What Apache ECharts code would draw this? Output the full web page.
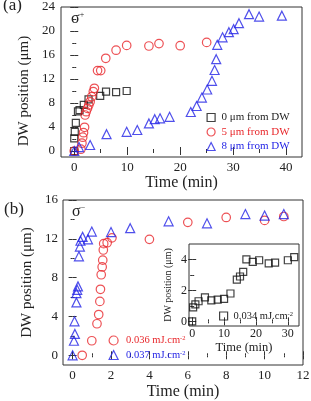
<!DOCTYPE html>
<html>
<head>
<meta charset="utf-8">
<script src="https://cdn.jsdelivr.net/npm/echarts@6/dist/echarts.min.js"></script>
<style>
  html, body { margin: 0; padding: 0; background: #fff; }
  #chart { width: 311px; height: 401px; }
</style>
</head>
<body>
<div id="chart"></div>
<script>
// (a) sigma+ : distance from DW
const aZeroTime = [0, 0, 0.1, 0.3, 0.7, 1.0, 1.8, 2.7, 4.9, 6.0, 7.9, 9.9];
const aZeroPos  = [0, 2.1, 3.2, 4.7, 6.6, 6.8, 7.7, 8.6, 9.2, 9.9, 9.8, 10.0];

const aFiveTime = [0, 1.25, 1.45, 1.6, 1.75, 1.95, 2.05, 2.25, 2.5, 2.75, 3.0, 3.3, 3.6, 3.8, 4.4, 5.0, 5.95, 7.9, 9.9, 14.1, 16.0, 20.0, 25.0];
const aFivePos  = [0, 0.3, 1.3, 2.3, 3.05, 3.95, 6.0, 6.55, 7.1, 7.65, 8.2, 9.05, 9.9, 10.45, 13.4, 13.4, 15.45, 16.8, 17.6, 17.5, 17.9, 17.55, 18.1];

const aEightTime = [0, 0.9, 3.0, 6.1, 9.9, 11.9, 14.1, 15.2, 16.2, 18.0, 22.0, 23.1, 24.1, 25.1, 26.0, 26.5, 26.8, 27.0, 28.0, 29.2, 30.1, 31.1, 33.0, 34.9, 39.2];
const aEightPos  = [0, 0.65, 1.0, 2.8, 3.2, 3.5, 4.6, 5.3, 5.45, 5.7, 6.5, 7.5, 8.9, 10.25, 11.7, 13.5, 15.3, 17.7, 18.95, 19.8, 20.3, 21.3, 22.8, 22.4, 22.55];

// (b) sigma- : fluence
const b036Time = [0.5, 1.0, 1.27, 1.36, 1.42, 1.45, 1.49, 1.54, 1.57, 1.6, 1.62, 1.8, 2.05, 4.0, 6.0, 8.0, 10.0, 11.0];
const b036Pos  = [0, 1.5, 3.25, 4.2, 5.55, 6.8, 8.3, 9.1, 9.8, 10.85, 11.5, 11.6, 12.1, 11.95, 13.7, 14.2, 13.9, 14.3];

const b037Time = [0, 0.07, 0.12, 0.1, 0.2, 0.2, 0.24, 0.28, 0.33, 0.38, 0.41, 0.52, 0.8, 1.0, 2.0, 3.0, 5.0, 7.0, 9.0, 10.0, 11.0];
const b037Pos  = [0, 1.5, 2.2, 3.5, 5.45, 6.4, 6.75, 7.1, 10.2, 11.2, 11.8, 12.2, 11.95, 12.75, 12.7, 13.1, 13.8, 13.6, 14.55, 14.4, 14.55];

// inset
const in034Time = [0, 0.3, 1, 2, 4, 6, 8, 10, 12, 14, 15, 16, 17, 19, 21, 24, 26, 30, 32];
const in034Pos  = [0, 0.9, 1.1, 1.3, 1.55, 1.35, 1.4, 1.45, 1.8, 2.7, 2.9, 3.2, 4.0, 3.85, 3.95, 3.75, 3.8, 3.95, 4.15];

// ticks
const aXTicks = [0, 10, 20, 30, 40];
const aXMinor = [5, 15, 25, 35];
const aYTicks = [0, 4, 8, 12, 16, 20, 24];
const aYMinor = [2, 6, 10, 14, 18, 22];
const bXTicks = [0, 2, 4, 6, 8, 10, 12];
const bXMinor = [1, 3, 5, 7, 9, 11];
const bYTicks = [0, 4, 8, 12, 16];
const bYMinor = [2, 6, 10, 14];
const inXTicks = [0, 10, 20, 30];
const inXMinor = [5, 15, 25];
const inYTicks = [0, 2, 4];
const inYMinor = [1, 3];

const SERIF = '"Liberation Serif", "Times New Roman", serif';
const INK = '#333';
const RED = '#e8262a';
const BLUE = '#2323e6';

const zip = (xs, ys) => xs.map((x, i) => [x, ys[i]]);

// 4 axes per side pair: main (labels + major ticks), main minor, mirror major, mirror minor
function sideAxes(gridIndex, pos, mirror, min, max, majors, minors, label, name) {
  const base = {
    type: 'value', gridIndex: gridIndex, min: min, max: max,
    axisLine: { show: false }, splitLine: { show: false }
  };
  const tick = (vals, len) => ({ show: true, inside: true, length: len, customValues: vals, lineStyle: { color: INK, width: 1 } });
  const main = Object.assign({}, base, {
    position: pos,
    axisTick: tick(majors, 4),
    axisLabel: Object.assign({ show: true, customValues: majors, color: '#222', fontFamily: SERIF }, label),
  }, name || {});
  return [
    main,
    Object.assign({}, base, { position: pos, axisTick: tick(minors, 2), axisLabel: { show: false } }),
    Object.assign({}, base, { position: mirror, axisTick: tick(majors, 4), axisLabel: { show: false } }),
    Object.assign({}, base, { position: mirror, axisTick: tick(minors, 2), axisLabel: { show: false } })
  ];
}

const xAxes = [].concat(
  sideAxes(0, 'bottom', 'top', -2.5, 43, aXTicks, aXMinor, { fontSize: 13, margin: 4 },
    { name: 'Time (min)', nameLocation: 'middle', nameGap: 18, nameTextStyle: { fontSize: 16, fontFamily: SERIF, color: '#222' } }),
  sideAxes(1, 'bottom', 'top', -0.5, 12, bXTicks, bXMinor, { fontSize: 13, margin: 4 },
    { name: 'Time (min)', nameLocation: 'middle', nameGap: 19, nameTextStyle: { fontSize: 16, fontFamily: SERIF, color: '#222' } }),
  sideAxes(2, 'bottom', 'top', -1, 33.5, inXTicks, inXMinor, { fontSize: 12, margin: 2 },
    { name: 'Time (min)', nameLocation: 'middle', nameGap: 12, nameTextStyle: { fontSize: 12.5, fontFamily: SERIF, color: '#222' } })
);

const yAxes = [].concat(
  sideAxes(0, 'left', 'right', -1, 24, aYTicks, aYMinor, { fontSize: 13, margin: 6 },
    { name: 'DW position (μm)', nameLocation: 'middle', nameGap: 21, nameTextStyle: { fontSize: 15, fontFamily: SERIF, color: '#222', padding: [0, 18, 0, 0] } }),
  sideAxes(1, 'left', 'right', -1, 16, bYTicks, bYMinor, { fontSize: 13, margin: 5 },
    { name: 'DW position (μm)', nameLocation: 'middle', nameGap: 22, nameTextStyle: { fontSize: 15, fontFamily: SERIF, color: '#222' } }),
  sideAxes(2, 'left', 'right', -0.3, 5, inYTicks, inYMinor, { fontSize: 12, margin: 2 },
    { name: 'DW position (μm)', nameLocation: 'middle', nameGap: 16, nameTextStyle: { fontSize: 10, fontFamily: SERIF, color: '#222' } })
);

function scat(name, g, xs, ys, symbol, size, color) {
  return {
    type: 'scatter', name: name, xAxisIndex: g * 4, yAxisIndex: g * 4,
    data: zip(xs, ys), symbol: symbol, symbolSize: size,
    itemStyle: { color: 'transparent', borderColor: color, borderWidth: 1.2 },
    emphasis: { disabled: true }
  };
}

const supName = n => n.replace(/cm-2$/, 'cm{sup|-2}');
const legendItem = { color: 'transparent', borderWidth: 1.2 };

const chart = echarts.init(document.getElementById('chart'), null, { renderer: 'canvas' });
chart.setOption({
  animation: false,
  backgroundColor: '#fff',
  textStyle: { fontFamily: SERIF },
  grid: [
    { left: 61, top: 7, width: 241, height: 150, show: true, borderColor: INK, borderWidth: 1, outerBoundsMode: 'none' },
    { left: 63, top: 200, width: 240, height: 165, show: true, borderColor: INK, borderWidth: 1, outerBoundsMode: 'none' },
    { left: 189, top: 244, width: 110, height: 82, show: true, borderColor: INK, borderWidth: 1, backgroundColor: '#fff', outerBoundsMode: 'none' }
  ],
  xAxis: xAxes,
  yAxis: yAxes,
  legend: [
    {
      left: 206.5, top: 112, padding: 0, orient: 'vertical', itemWidth: 8, itemHeight: 8, itemGap: 3.5,
      selectedMode: false, itemStyle: legendItem,
      textStyle: { fontSize: 11, lineHeight: 11, fontFamily: SERIF, padding: [0, 0, 0, 1.5] },
      data: [
        { name: '0 μm from DW', icon: 'rect', textStyle: { color: '#222' } },
        { name: '5 μm from DW', icon: 'circle', textStyle: { color: RED } },
        { name: '8 μm from DW', icon: 'triangle', textStyle: { color: BLUE } }
      ]
    },
    {
      left: 108.5, top: 335, padding: 0, orient: 'vertical', itemWidth: 9, itemHeight: 9, itemGap: 3.5,
      selectedMode: false, formatter: supName, itemStyle: legendItem,
      textStyle: { fontSize: 10.5, lineHeight: 11, fontFamily: SERIF, padding: [0, 0, 0, 3],
        rich: { sup: { fontSize: 6.5, verticalAlign: 'top', lineHeight: 11 } } },
      data: [
        { name: '0.036 mJ.cm-2', icon: 'circle', textStyle: { color: RED } },
        { name: '0.037 mJ.cm-2', icon: 'triangle', textStyle: { color: BLUE } }
      ]
    },
    {
      left: 219, top: 310.5, padding: 0, orient: 'vertical', itemWidth: 8, itemHeight: 8,
      selectedMode: false, formatter: supName, itemStyle: legendItem,
      textStyle: { fontSize: 10.5, lineHeight: 11, fontFamily: SERIF, color: '#222', padding: [0, 0, 0, 1],
        rich: { sup: { fontSize: 6.5, verticalAlign: 'top', lineHeight: 11 } } },
      data: [{ name: '0.034 mJ.cm-2', icon: 'rect' }]
    }
  ],
  graphic: [
    { type: 'text', left: 3, top: -3, style: { text: '(a)', fontSize: 17, fontFamily: SERIF, fill: '#222' } },
    { type: 'text', left: 4, top: 201, style: { text: '(b)', fontSize: 17, fontFamily: SERIF, fill: '#222' } },
    { type: 'text', left: 71, top: 11, style: { text: '{s|σ}{p|+}', fontFamily: SERIF, fill: '#222',
        rich: { s: { fontSize: 16, fontFamily: SERIF }, p: { fontSize: 8, verticalAlign: 'top', fontFamily: SERIF } } } },
    { type: 'text', left: 72, top: 204, style: { text: '{s|σ}{p|−}', fontFamily: SERIF, fill: '#222',
        rich: { s: { fontSize: 16, fontFamily: SERIF }, p: { fontSize: 8, verticalAlign: 'top', fontFamily: SERIF } } } }
  ],
  series: [
    scat('0 μm from DW', 0, aZeroTime, aZeroPos, 'rect', 7, '#111'),
    scat('5 μm from DW', 0, aFiveTime, aFivePos, 'circle', 8.5, RED),
    scat('8 μm from DW', 0, aEightTime, aEightPos, 'triangle', 9, BLUE),
    scat('0.036 mJ.cm-2', 1, b036Time, b036Pos, 'circle', 8.5, RED),
    scat('0.037 mJ.cm-2', 1, b037Time, b037Pos, 'triangle', 9, BLUE),
    scat('0.034 mJ.cm-2', 2, in034Time, in034Pos, 'rect', 7, '#111')
  ]
});
</script>
</body>
</html>
